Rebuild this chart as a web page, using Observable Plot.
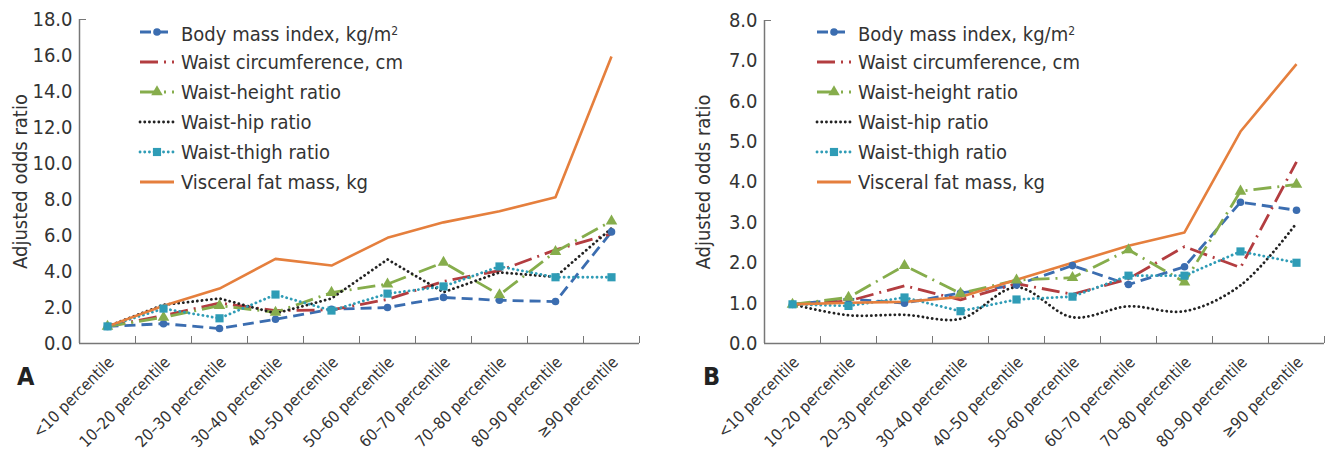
<!DOCTYPE html>
<html><head><meta charset="utf-8">
<script src="https://cdn.jsdelivr.net/npm/d3@7"></script>
<script src="https://cdn.jsdelivr.net/npm/@observablehq/plot@0.6"></script>
<style>
body{margin:0;background:#fff;}
#wrap{position:relative;width:1329px;height:453px;overflow:hidden;font-family:"Liberation Sans Narrow","DejaVu Sans Condensed",Roboto,sans-serif;color:#333;}
.panel{position:absolute;top:0;}
.legend{position:absolute;font-size:20px;line-height:30px;}
.legend .row{display:flex;align-items:center;height:30px;white-space:nowrap;}
.legend svg{margin-right:7px;overflow:visible;}
.letter{position:absolute;font-family:"Liberation Sans Narrow","DejaVu Sans Condensed",Roboto,sans-serif;font-weight:bold;font-size:25px;color:#222;}
sup{font-size:12px;vertical-align:6px;}
</style></head>
<body><div id="wrap"></div>
<script>
const categories = ["<10 percentile","10–20 percentile","20–30 percentile","30–40 percentile","40–50 percentile","50–60 percentile","60–70 percentile","70–80 percentile","80–90 percentile","≥90 percentile"];
const seriesNames = ["Body mass index, kg/m2","Waist circumference, cm","Waist-height ratio","Waist-hip ratio","Waist-thigh ratio","Visceral fat mass, kg"];

// Panel A values
const bmiA  = [0.95, 1.1, 0.83, 1.35, 1.9, 2.0, 2.56, 2.4, 2.33, 6.2];
const wcA   = [0.95, 1.55, 2.25, 1.83, 1.87, 2.45, 3.45, 4.05, 5.2, 6.1];
const whtrA = [0.95, 1.45, 2.1, 1.73, 2.83, 3.3, 4.5, 2.7, 5.1, 6.8];
const whrA  = [0.95, 2.15, 2.5, 1.67, 2.5, 4.67, 2.85, 3.95, 3.7, 6.4];
const wthrA = [0.95, 1.94, 1.4, 2.72, 1.83, 2.77, 3.17, 4.28, 3.68, 3.68];
const vfmA  = [0.95, 2.1, 3.05, 4.7, 4.33, 5.87, 6.73, 7.35, 8.13, 15.95];

// Panel B values
const bmiB  = [0.97, 1.1, 1.0, 1.25, 1.45, 1.93, 1.46, 1.9, 3.5, 3.3];
const wcB   = [0.97, 1.05, 1.43, 1.08, 1.48, 1.22, 1.6, 2.4, 1.88, 4.5];
const whtrB = [0.97, 1.14, 1.93, 1.24, 1.57, 1.63, 2.32, 1.52, 3.77, 3.94];
const whrB  = [0.97, 0.7, 0.71, 0.61, 1.39, 0.65, 0.92, 0.8, 1.44, 2.98];
const wthrB = [0.97, 0.93, 1.14, 0.8, 1.09, 1.16, 1.68, 1.68, 2.28, 2.0];
const vfmB  = [0.97, 1.01, 1.03, 1.15, 1.58, 2.0, 2.42, 2.75, 5.25, 6.92];

const yTicksA = [0, 2, 4, 6, 8, 10, 12, 14, 16, 18];
const yTicksB = [0, 1, 2, 3, 4, 5, 6, 7, 8];

// styles
const colors = ["#3b6db0", "#b33d40", "#86ad4c", "#222222", "#2f9cb6", "#e57f3d"];
const dashes = ["11,6", "18,6,2,6", "18,6,2,6", "0.1,4.6", "0.1,4.6", null];
const symbols = ["circle", null, "triangle", null, "square", null];
const symR = {circle: 3.8, triangle: 4.3, square: 4.6};
const FONT = '"Liberation Sans Narrow","DejaVu Sans Condensed",Roboto,sans-serif';

function makePanel(valuesList, yMax, yTicks, opts) {
  const marks = [];
  marks.push(Plot.axisY({ticks: yTicks, tickFormat: d => d.toFixed(1), tickSize: 0, tickPadding: 7,
    label: "Adjusted odds ratio", labelAnchor: "center", labelOffset: opts.labelOffset, labelArrow: "none", fill: "#333"}));
  marks.push(Plot.axisY({ticks: [yMax], tickSize: -7, tickFormat: () => "", label: null, stroke: "#777"}));
  marks.push(Plot.axisX({ticks: d3.range(0.5, 10, 1), tickSize: -7, tickFormat: () => "", label: null, stroke: "#777"}));
  marks.push(Plot.axisX({ticks: d3.range(10), tickFormat: i => categories[i], tickSize: 0, tickPadding: opts.xPad,
    tickRotate: -45, label: null, fill: "#333", fontSize: 16, dx: 4}));
  marks.push(Plot.ruleY([0], {stroke: "#777", strokeWidth: 1.5}));
  marks.push(Plot.ruleX([-0.5], {stroke: "#777", strokeWidth: 1.5}));
  valuesList.forEach((vals, si) => {
    const rows = vals.map((v, i) => ({i, v}));
    const lineOpts = {x: "i", y: "v", stroke: colors[si], strokeWidth: si === 5 ? 2.6 : 2.8,
      strokeLinecap: dashes[si] && dashes[si].startsWith("0.1") ? "round" : "butt"};
    if (dashes[si]) lineOpts.strokeDasharray = dashes[si];
    if (opts.smooth && opts.smooth.includes(si)) lineOpts.curve = "catmull-rom";
    marks.push(Plot.line(rows, lineOpts));
  });
  valuesList.forEach((vals, si) => {
    if (!symbols[si]) return;
    const rows = vals.map((v, i) => ({i, v}));
    marks.push(Plot.dot(rows, {x: "i", y: "v", symbol: () => symbols[si], fill: colors[si], stroke: "none", r: symR[symbols[si]]}));
  });
  return Plot.plot({
    width: opts.width, height: 453,
    marginLeft: opts.ml, marginRight: opts.mr, marginTop: opts.mt, marginBottom: 110,
    x: {type: "linear", domain: [-0.5, 9.5]},
    y: {domain: [0, yMax]},
    symbol: {type: "identity"},
    style: {fontFamily: FONT, fontSize: "20px", color: "#333", background: "transparent", overflow: "visible"},
    marks
  });
}

function makeLegend(left, top) {
  const div = document.createElement("div");
  div.className = "legend";
  div.style.left = left + "px";
  div.style.top = top + "px";
  seriesNames.forEach((name, si) => {
    const row = document.createElement("div");
    row.className = "row";
    const svg = d3.create("svg").attr("width", 34).attr("height", 14);
    const ln = svg.append("line").attr("x1", 0).attr("x2", 34).attr("y1", 7).attr("y2", 7)
      .attr("stroke", colors[si]).attr("stroke-width", 2.8);
    if (dashes[si]) ln.attr("stroke-dasharray", dashes[si]);
    if (dashes[si] && dashes[si].startsWith("0.1")) ln.attr("stroke-linecap", "round");
    if (symbols[si]) {
      const sym = {circle: d3.symbolCircle, triangle: d3.symbolTriangle, square: d3.symbolSquare}[symbols[si]];
      const r = symR[symbols[si]];
      svg.append("path").attr("d", d3.symbol(sym, Math.PI * r * r)()).attr("transform", "translate(17,7)").attr("fill", colors[si]);
    }
    row.appendChild(svg.node());
    const span = document.createElement("span");
    if (name.endsWith("m2")) span.innerHTML = name.slice(0, -1) + "<sup>2</sup>";
    else span.textContent = name;
    row.appendChild(span);
    div.appendChild(row);
  });
  return div;
}

const wrap = document.getElementById("wrap");
const pA = makePanel([bmiA, wcA, whtrA, whrA, wthrA, vfmA], 18, yTicksA, {width: 660, ml: 79, mr: 21, mt: 19, labelOffset: 67, xPad: 16});
pA.classList.add("panel"); pA.style.left = "0px";
wrap.appendChild(pA);
const pB = makePanel([bmiB, wcB, whtrB, whrB, wthrB, vfmB], 8, yTicksB, {width: 669, ml: 104, mr: 5, mt: 20, labelOffset: 69, xPad: 16, smooth: [3]});
pB.classList.add("panel"); pB.style.left = "660px";
wrap.appendChild(pB);

wrap.appendChild(makeLegend(140, 17));
wrap.appendChild(makeLegend(817, 17));

const la = document.createElement("div"); la.className = "letter"; la.textContent = "A"; la.style.left = "17px"; la.style.top = "362px"; wrap.appendChild(la);
const lb = document.createElement("div"); lb.className = "letter"; lb.textContent = "B"; lb.style.left = "703px"; lb.style.top = "362px"; wrap.appendChild(lb);
</script>
</body></html>
